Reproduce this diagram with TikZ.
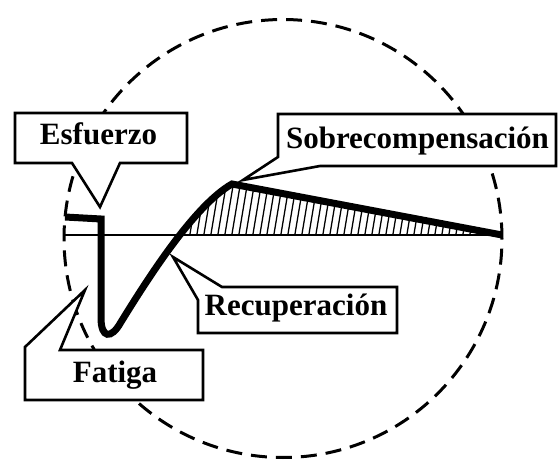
\documentclass[tikz,border=0pt]{standalone}
\usepackage{fontspec}
\setmainfont{Liberation Serif}

\begin{document}
\begin{tikzpicture}[x=1pt,y=-1pt,
    bubble/.style={draw,fill=white,line width=2.6pt},
    word/.style={anchor=base,inner sep=0pt,font=\fontsize{31}{36}\selectfont\bfseries},
    rim/.style={line width=3pt,dash pattern=on 16pt off 9pt},
    hatch/.style={line width=1.3pt}]
    \useasboundingbox (0,0) rectangle (558,460);
    \draw[rim] (283,238.5) circle[radius=219pt];
    \coordinate (start) at (65,217);
    \coordinate (peak) at (232,184);
    \coordinate (end) at (502,235);
    \begin{scope}
      \clip (0,0) rectangle (558,235);
      \clip (121,322) .. controls (150,275) and (195,205) .. (peak) -- (end) -- cycle;
      \foreach \x in {140,147,...,505}
        \draw[hatch] (\x,240) -- ++(10,-60);
    \end{scope}
    \draw[line width=2pt] (64,235) -- (end);
    \draw[line width=7pt] (start) -- (101,219) -- (101,318) .. controls (101,338) and (111,340) .. (121,322)
      .. controls (150,275) and (195,205) .. (peak) -- (end);
    \coordinate (esf tip) at (100,207);
    \coordinate (sobre tip) at (243,180);
    \coordinate (recup tip) at (173,257);
    \coordinate (fatiga tip) at (85,290);
    \draw[bubble] (15,113) -- (187,113) -- (187,163) -- (120,163) -- (esf tip) -- (72,163) -- (15,163) -- cycle;
    \draw[bubble] (278,114) -- (556,114) -- (556,166) -- (320,166) -- (sobre tip) -- (278,157) -- cycle;
    \draw[bubble] (222,287) -- (397,287) -- (397,333) -- (198,333) -- (198,300) -- (recup tip) -- cycle;
    \draw[bubble] (60,350) -- (203,350) -- (203,400) -- (25,400) -- (25,347) -- (fatiga tip) -- cycle;
    \node[word] (esf) at (98.5,145) {Esfuerzo};
    \node[word] (sobre) at (417.5,149) {Sobrecompensación};
    \node[word] (recup) at (296,315) {Recuperación};
    \node[word] (fatiga) at (115,382) {Fatiga};
\end{tikzpicture}
\end{document}
